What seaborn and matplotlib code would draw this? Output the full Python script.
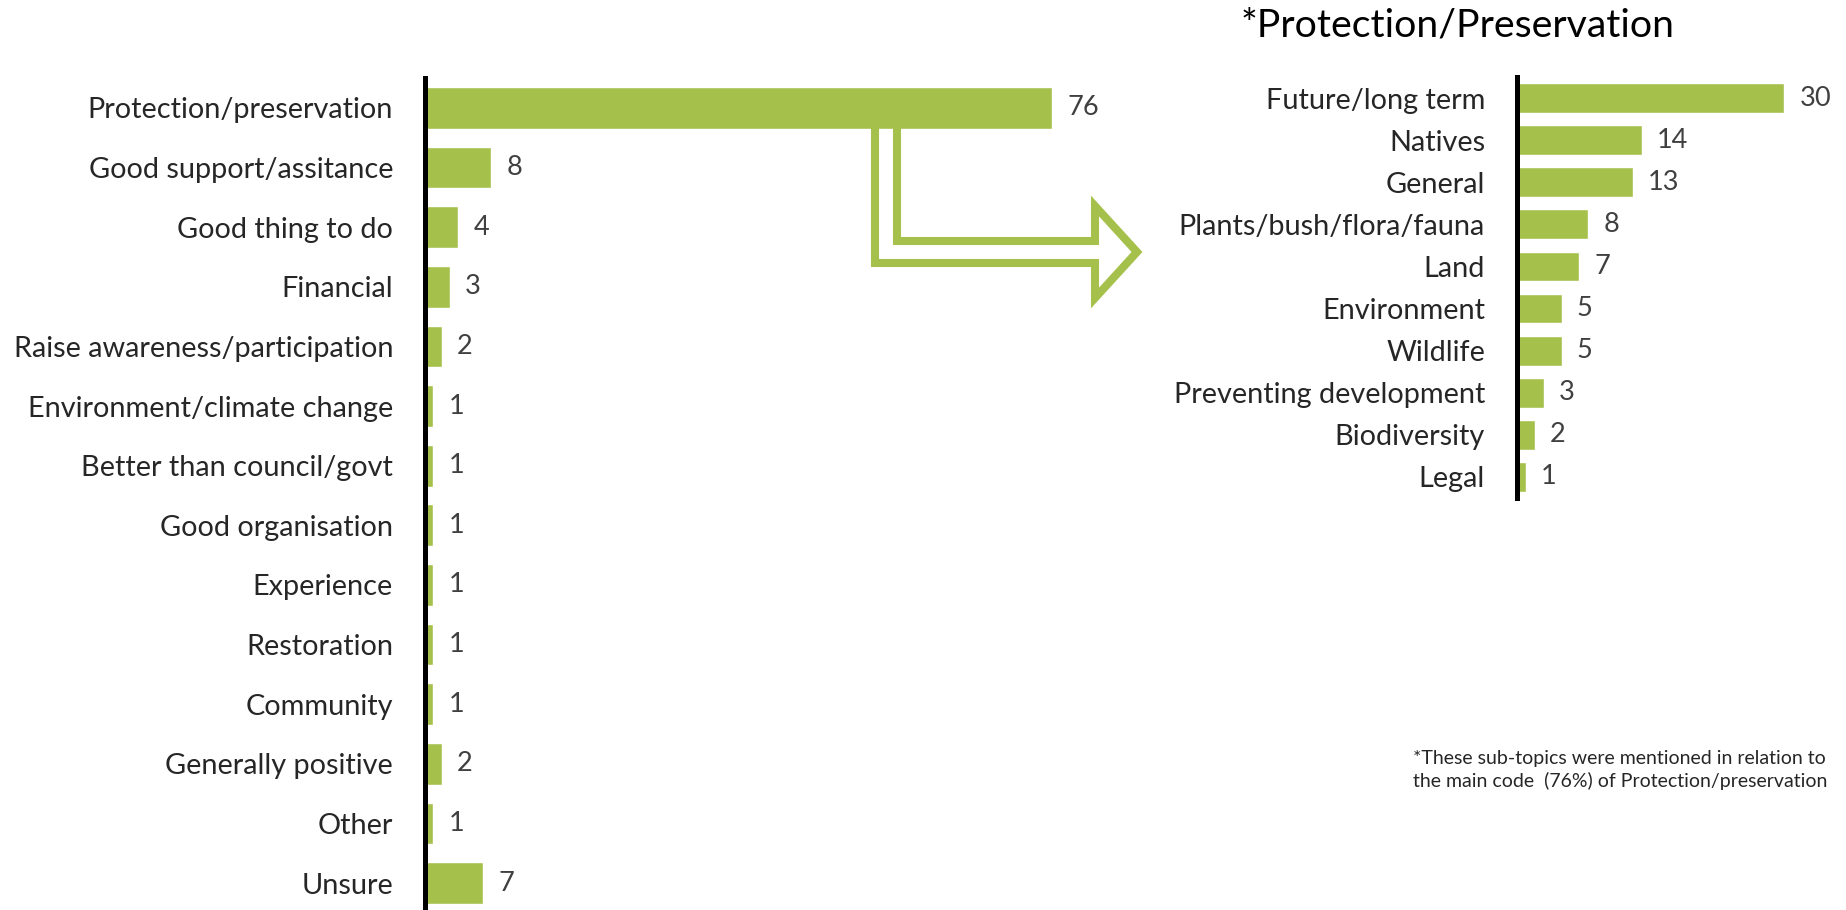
import matplotlib
matplotlib.use("Agg")
import matplotlib.pyplot as plt
import seaborn as sns
import pandas as pd
from matplotlib.lines import Line2D

# Main codes
main_labels = [
    "Protection/preservation", "Good support/assitance", "Good thing to do",
    "Financial", "Raise awareness/participation", "Environment/climate change",
    "Better than council/govt", "Good organisation", "Experience",
    "Restoration", "Community", "Generally positive", "Other", "Unsure",
]
main_values = [76, 8, 4, 3, 2, 1, 1, 1, 1, 1, 1, 2, 1, 7]

# Sub-topics of Protection/preservation
sub_labels = [
    "Future/long term", "Natives", "General", "Plants/bush/flora/fauna",
    "Land", "Environment", "Wildlife", "Preventing development",
    "Biodiversity", "Legal",
]
sub_values = [30, 14, 13, 8, 7, 5, 5, 3, 2, 1]

sub_title = "*Protection/Preservation"
footnote = ("*These sub-topics were mentioned in relation to\n"
            "the main code  (76%) of Protection/preservation")

GREEN = "#A5C04B"
LABEL_COLOR = "#262626"
VALUE_COLOR = "#404040"

sns.set_theme(style="white")
plt.rcParams["font.family"] = ["Lato", "DejaVu Sans"]

W, H = 1846, 910
fig = plt.figure(figsize=(W / 100, H / 100), dpi=100)
fig.patch.set_facecolor("white")


def px_axes(left, top, right, bottom):
    return fig.add_axes([left / W, 1 - bottom / H, (right - left) / W, (bottom - top) / H])


def style_axes(ax, labelsize, pad):
    for side in ("top", "right", "bottom"):
        ax.spines[side].set_visible(False)
    ax.spines["left"].set_color("black")
    ax.spines["left"].set_linewidth(3.6)
    ax.set_xlabel("")
    ax.set_ylabel("")
    ax.set_xticks([])
    ax.tick_params(axis="y", length=0, pad=pad, labelsize=labelsize, labelcolor=LABEL_COLOR)
    ax.set_facecolor("none")


def value_labels(ax, values, size):
    for i, v in enumerate(values):
        ax.annotate(str(v), xy=(v, i), xytext=(11, 0), textcoords="offset points",
                    ha="left", va="center", fontsize=size, color=VALUE_COLOR,
                    annotation_clip=False)


# Left chart: all codes
ax1 = px_axes(425, 78, 1085, 913)
df_main = pd.DataFrame({"code": main_labels, "count": main_values})
sns.barplot(data=df_main, x="count", y="code", orient="h", color=GREEN,
            saturation=1, width=0.70, ax=ax1)
ax1.set_xlim(0, 80)
ax1.set_ylim(len(main_labels) - 0.5, -0.5)
style_axes(ax1, 20.8, 23)
value_labels(ax1, main_values, 19.5)

# Right chart: sub-topics
ax2 = px_axes(1517, 77, 1811, 498)
df_sub = pd.DataFrame({"topic": sub_labels, "count": sub_values})
sns.barplot(data=df_sub, x="count", y="topic", orient="h", color=GREEN,
            saturation=1, width=0.71, ax=ax2)
ax2.set_xlim(0, 33)
ax2.set_ylim(len(sub_labels) - 0.5, -0.5)
style_axes(ax2, 20.8, 23)
value_labels(ax2, sub_values, 19.5)

fig.text(1458 / W, 1 - 26 / H, sub_title, ha="center", va="center",
         fontsize=28.3, color="black")

fig.text(1413 / W, 1 - 770 / H, footnote, ha="left", va="center",
         fontsize=14, color=LABEL_COLOR, linespacing=1.3)

# Hollow bent arrow leading from the main bar to the sub-topic chart
arrow_px = [(875, 128), (875, 263), (1095, 263), (1095, 298), (1137, 252),
            (1095, 206), (1095, 241), (897, 241), (897, 128)]
ax_x = [x / W for x, _ in arrow_px]
ax_y = [1 - y / H for _, y in arrow_px]
fig.add_artist(Line2D(ax_x, ax_y, transform=fig.transFigure, color=GREEN,
                      linewidth=5.8, solid_joinstyle="miter", solid_capstyle="butt"))

fig.savefig("out.png", dpi=100, facecolor="white")
